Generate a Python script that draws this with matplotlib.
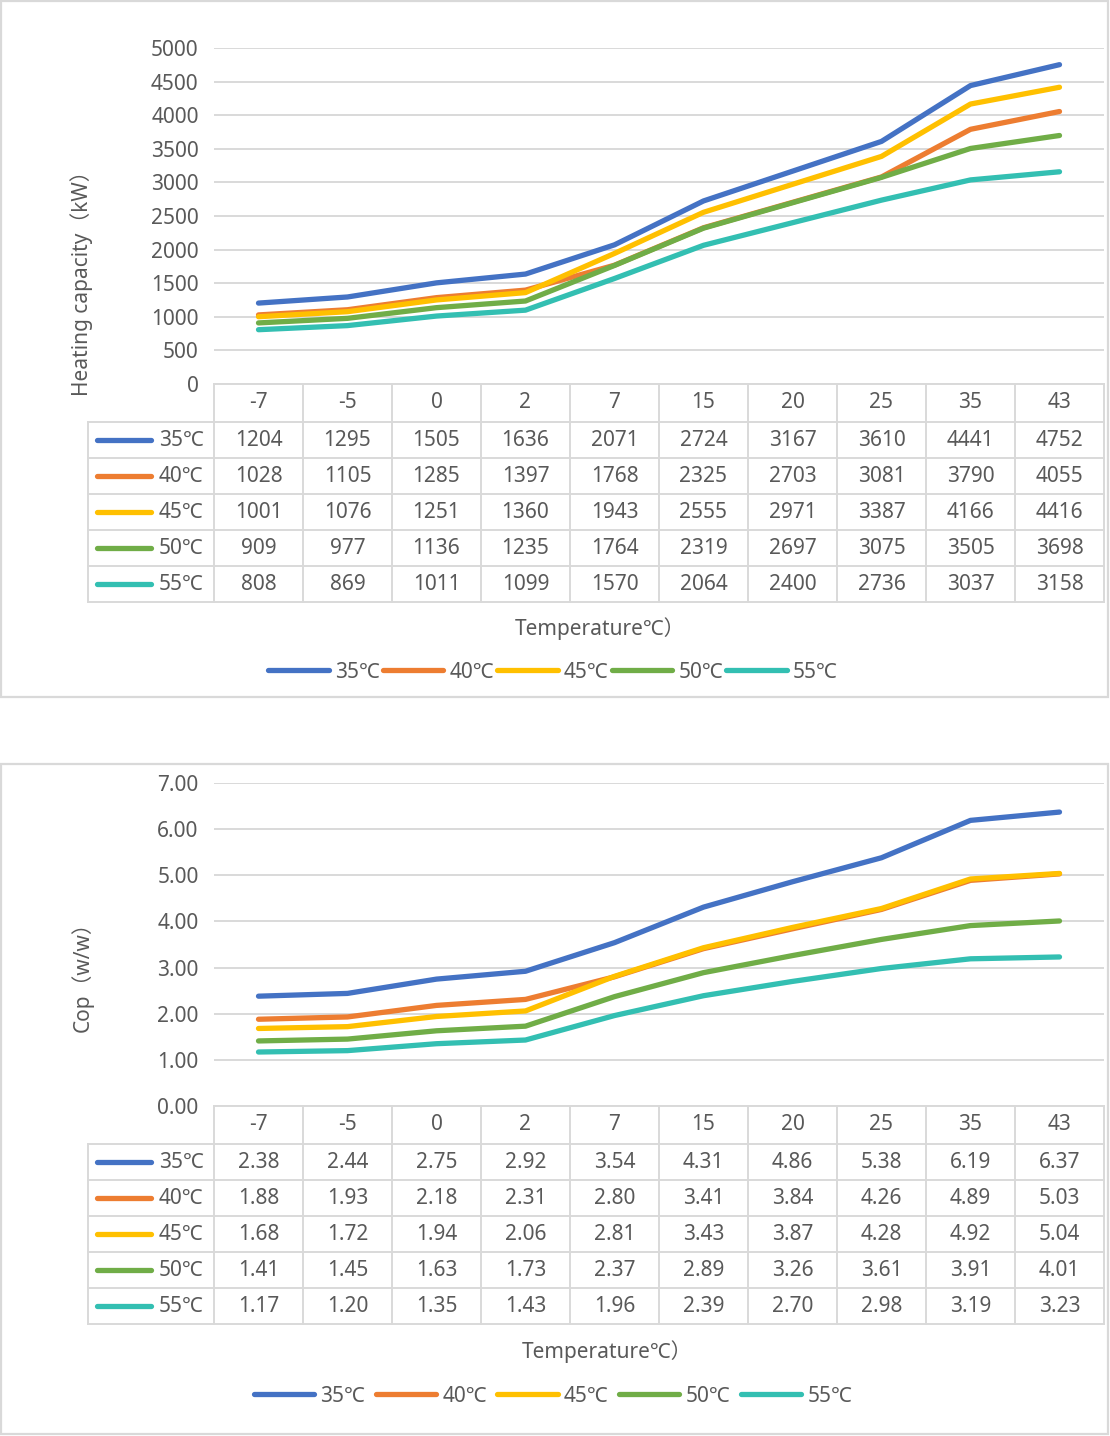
import matplotlib
matplotlib.use("Agg")
import matplotlib.pyplot as plt
from matplotlib.patches import Rectangle

plt.rcParams['font.family'] = ['Noto Sans', 'Noto Sans CJK SC', 'DejaVu Sans']

# ---- data ----
temps = ["-7", "-5", "0", "2", "7", "15", "20", "25", "35", "43"]
series = ["35℃", "40℃", "45℃", "50℃", "55℃"]
colors = ["#4472C4", "#ED7D31", "#FFC000", "#70AD47", "#33BFB2"]

cap_35 = [1204, 1295, 1505, 1636, 2071, 2724, 3167, 3610, 4441, 4752]
cap_40 = [1028, 1105, 1285, 1397, 1768, 2325, 2703, 3081, 3790, 4055]
cap_45 = [1001, 1076, 1251, 1360, 1943, 2555, 2971, 3387, 4166, 4416]
cap_50 = [909, 977, 1136, 1235, 1764, 2319, 2697, 3075, 3505, 3698]
cap_55 = [808, 869, 1011, 1099, 1570, 2064, 2400, 2736, 3037, 3158]

cop_35 = [2.38, 2.44, 2.75, 2.92, 3.54, 4.31, 4.86, 5.38, 6.19, 6.37]
cop_40 = [1.88, 1.93, 2.18, 2.31, 2.80, 3.41, 3.84, 4.26, 4.89, 5.03]
cop_45 = [1.68, 1.72, 1.94, 2.06, 2.81, 3.43, 3.87, 4.28, 4.92, 5.04]
cop_50 = [1.41, 1.45, 1.63, 1.73, 2.37, 2.89, 3.26, 3.61, 3.91, 4.01]
cop_55 = [1.17, 1.20, 1.35, 1.43, 1.96, 2.39, 2.70, 2.98, 3.19, 3.23]

W, H = 1110, 1436
GRID = "#D9D9D9"
TXT = "#595959"
FS = 15

fig = plt.figure(figsize=(W / 100, H / 100), dpi=100)
bg = fig.add_axes([0, 0, 1, 1])
bg.set_xlim(0, W)
bg.set_ylim(H, 0)
bg.axis('off')


def draw_chart(box, plot_top, plot_bot, ymax, ystep, fmt, ylabel, ylab_y,
               data, xlab_x, xlab_y, leg_y, colsp):
    # chart border
    x0, y0, x1, y1 = box
    bg.add_patch(Rectangle((x0, y0), x1 - x0, y1 - y0, fill=False,
                           edgecolor=GRID, lw=1.6))
    left, right = 214, 1104
    ax = fig.add_axes([left / W, 1 - plot_bot / H, (right - left) / W,
                       (plot_bot - plot_top) / H])
    ax.set_facecolor('none')
    lines = []
    for vals, name, c in zip(data, series, colors):
        ln, = ax.plot(range(len(temps)), vals, color=c, lw=3.8,
                      solid_capstyle='round', label=name)
        lines.append(ln)
    ax.set_xlim(-0.5, len(temps) - 0.5)
    ax.set_ylim(0, ymax)
    ticks = [i * ystep for i in range(int(round(ymax / ystep)) + 1)]
    ax.set_yticks(ticks)
    ax.set_yticklabels([fmt.format(t) for t in ticks], fontsize=FS, color=TXT)
    ax.set_xticks([])
    ax.tick_params(axis='y', length=0, pad=11)
    ax.grid(axis='y', color=GRID, lw=1.4)
    ax.set_axisbelow(True)
    for s in ax.spines.values():
        s.set_visible(False)
    bg.text(82, ylab_y, ylabel, rotation=90, ha='center', va='center',
            fontsize=FS, color=TXT)

    # data table under the plot
    n = len(temps)
    cw = (right - left) / n
    head_h = 38
    row_h = 36
    t_top = plot_bot
    r_top = t_top + head_h
    t_bot = r_top + row_h * len(series)
    kw = dict(color=GRID, lw=1.4)
    bg.plot([left, right], [t_top, t_top], **kw)
    for i in range(n + 1):
        bg.plot([left + i * cw] * 2, [t_top, t_bot], **kw)
    bg.plot([88, 88], [r_top, t_bot], **kw)
    for j in range(len(series) + 1):
        bg.plot([88, right], [r_top + j * row_h] * 2, **kw)
    for i, t in enumerate(temps):
        bg.text(left + (i + 0.5) * cw, t_top + head_h / 2, t, ha='center',
                va='center', fontsize=FS, color=TXT)
    for j, (vals, name, c) in enumerate(zip(data, series, colors)):
        yc = r_top + (j + 0.5) * row_h
        bg.plot([97, 151], [yc, yc], color=c, lw=3.8, solid_capstyle='round')
        bg.text(159, yc, name, ha='left', va='center', fontsize=FS, color=TXT)
        for i, v in enumerate(vals):
            bg.text(left + (i + 0.5) * cw, yc, fmt.format(v), ha='center',
                    va='center', fontsize=FS, color=TXT)

    bg.text(xlab_x, xlab_y, "Temperature℃）", ha='center', va='center',
            fontsize=FS, color=TXT)
    fig.legend(handles=lines, loc='center', ncol=5,
               bbox_to_anchor=(553 / W, 1 - leg_y / H), frameon=False,
               fontsize=FS, labelcolor=TXT, handlelength=2.9,
               handletextpad=0.3, columnspacing=colsp)


draw_chart((1, 1, 1108, 697), 48, 384, 5000, 500, "{:.0f}",
           "Heating capacity（kW）", 278,
           [cap_35, cap_40, cap_45, cap_50, cap_55], 600, 629, 672, 0.15)
draw_chart((1, 764, 1108, 1434), 783, 1106, 7, 1, "{:.2f}",
           "Cop（w/w）", 972,
           [cop_35, cop_40, cop_45, cop_50, cop_55], 607, 1352, 1396, 0.5)

fig.savefig("out.png", dpi=100, facecolor='white')
